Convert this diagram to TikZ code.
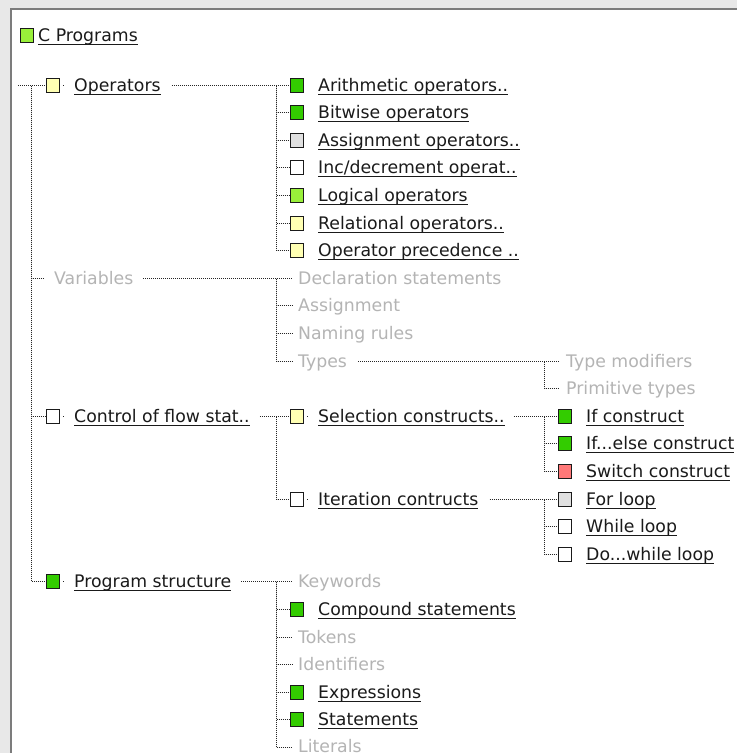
\documentclass[tikz,border=0pt]{standalone}
\usepackage{fontspec}
\setmainfont{DejaVu Sans}
\usetikzlibrary{calc}
\definecolor{cgreen}{HTML}{33CC00}
\definecolor{clime}{HTML}{99F03A}
\definecolor{cyellow}{HTML}{FFFFB3}
\definecolor{cgrey}{HTML}{E0E0E0}
\definecolor{cred}{HTML}{FF7878}
\definecolor{ink}{HTML}{1A1A1A}
\definecolor{faded}{HTML}{B4B4B4}
\definecolor{dots}{HTML}{262626}
\definecolor{panelbg}{HTML}{E8E8E8}
\definecolor{panelrim}{HTML}{7C7C7C}
% underlined link text with a fixed underline position
\newcommand\linktext[1]{\setbox0=\hbox{#1}\rlap{\rule[-3.6pt]{\wd0}{1.2pt}}\box0}
\begin{document}
\begin{tikzpicture}[x=1pt,y=-1pt,
  every node/.style={font=\fontsize{17.3}{20}\selectfont},
  treeline/.style={draw=dots, line width=1pt, dash pattern=on 1pt off 1pt},
  sq/.style={draw=ink, line width=1.3pt, minimum size=13.4pt, inner sep=0pt, anchor=west},
  nopt/.style={inner sep=0pt, minimum size=0pt},
  lnk/.style={anchor=base west, inner sep=0pt, text=ink},
  dim/.style={anchor=base west, inner sep=0pt, text=faded}]
\clip (0,0) rectangle (737,753);
% window frame
\fill[panelbg] (0,0) rectangle (737,753);
\fill[white] (12,10) rectangle (737,753);
\draw[panelrim, line width=2pt] (11,753) -- (11,8.5) -- (737,8.5);

% root
\node[sq, fill=clime] (rootB) at (19.5,35.5) {};
\node[lnk] (rootT) at (38,41.5) {\linktext{C Programs}};

% first level
\node[sq, fill=cyellow] (opsB) at (45.5,85.5) {};
\node[lnk] (opsT) at (74,91.5) {\linktext{Operators}};
\node[nopt] (varsP) at (44,278.5) {};
\node[dim] (varsT) at (54,284.5) {Variables};
\node[sq, fill=white] (ctrlB) at (45.5,416.5) {};
\node[lnk] (ctrlT) at (74,422.5) {\linktext{Control of flow stat..}};
\node[sq, fill=cgreen] (progB) at (45.5,581.5) {};
\node[lnk] (progT) at (74,587.5) {\linktext{Program structure}};

% second level: operators
\node[sq, fill=cgreen] (arithB) at (289.5,85.5) {};
\node[lnk] (arithT) at (318,91.5) {\linktext{Arithmetic operators..}};
\node[sq, fill=cgreen] (bitB) at (289.5,112.5) {};
\node[lnk] (bitT) at (318,118.5) {\linktext{Bitwise operators}};
\node[sq, fill=cgrey] (asgB) at (289.5,140.5) {};
\node[lnk] (asgT) at (318,146.5) {\linktext{Assignment operators..}};
\node[sq, fill=white] (incB) at (289.5,167.5) {};
\node[lnk] (incT) at (318,173.5) {\linktext{Inc/decrement operat..}};
\node[sq, fill=clime] (logB) at (289.5,195.5) {};
\node[lnk] (logT) at (318,201.5) {\linktext{Logical operators}};
\node[sq, fill=cyellow] (relB) at (289.5,223.5) {};
\node[lnk] (relT) at (318,229.5) {\linktext{Relational operators..}};
\node[sq, fill=cyellow] (precB) at (289.5,250.5) {};
\node[lnk] (precT) at (318,256.5) {\linktext{Operator precedence ..}};

% second level: variables
\node[nopt] (declP) at (292,278.5) {};
\node[dim] (declT) at (298,284.5) {Declaration statements};
\node[nopt] (assnP) at (292,305.5) {};
\node[dim] (assnT) at (298,311.5) {Assignment};
\node[nopt] (nameP) at (292,333.5) {};
\node[dim] (nameT) at (298,339.5) {Naming rules};
\node[nopt] (typeP) at (292,361.5) {};
\node[dim] (typeT) at (298,367.5) {Types};

% second level: control of flow
\node[sq, fill=cyellow] (selB) at (289.5,416.5) {};
\node[lnk] (selT) at (318,422.5) {\linktext{Selection constructs..}};
\node[sq, fill=white] (iterB) at (289.5,499.5) {};
\node[lnk] (iterT) at (318,505.5) {\linktext{Iteration contructs}};

% second level: program structure
\node[nopt] (keyP) at (292,581.5) {};
\node[dim] (keyT) at (298,587.5) {Keywords};
\node[sq, fill=cgreen] (compB) at (289.5,609.5) {};
\node[lnk] (compT) at (318,615.5) {\linktext{Compound statements}};
\node[nopt] (tokP) at (292,637.5) {};
\node[dim] (tokT) at (298,643.5) {Tokens};
\node[nopt] (identP) at (292,664.5) {};
\node[dim] (identT) at (298,670.5) {Identifiers};
\node[sq, fill=cgreen] (exprB) at (289.5,692.5) {};
\node[lnk] (exprT) at (318,698.5) {\linktext{Expressions}};
\node[sq, fill=cgreen] (stmtB) at (289.5,719.5) {};
\node[lnk] (stmtT) at (318,725.5) {\linktext{Statements}};
\node[nopt] (litP) at (292,747.5) {};
\node[dim] (litT) at (298,752.5) {Literals};

% third level
\node[nopt] (tmodP) at (559,361.5) {};
\node[dim] (tmodT) at (566,367.5) {Type modifiers};
\node[nopt] (primP) at (559,388.5) {};
\node[dim] (primT) at (566,394.5) {Primitive types};
\node[sq, fill=cgreen] (ifB) at (557.5,416.5) {};
\node[lnk] (ifT) at (586,422.5) {\linktext{If construct}};
\node[sq, fill=cgreen] (ifelB) at (557.5,443.5) {};
\node[lnk] (ifelT) at (586,449.5) {\linktext{If...else construct}};
\node[sq, fill=cred] (swB) at (557.5,471.5) {};
\node[lnk] (swT) at (586,477.5) {\linktext{Switch construct}};
\node[sq, fill=cgrey] (forB) at (557.5,499.5) {};
\node[lnk] (forT) at (586,505.5) {\linktext{For loop}};
\node[sq, fill=white] (whB) at (557.5,526.5) {};
\node[lnk] (whT) at (586,532.5) {\linktext{While loop}};
\node[sq, fill=white] (dowB) at (557.5,554.5) {};
\node[lnk] (dowT) at (586,560.5) {\linktext{Do...while loop}};

% branch points of the tree
\coordinate (stubL) at (18,85.5);
\coordinate (jTop) at (31.5,85.5);
\coordinate (jOps) at (276.5,85.5);
\coordinate (jVars) at (276.5,278.5);
\coordinate (jCtrl) at (276.5,416.5);
\coordinate (jProg) at (276.5,581.5);
\coordinate (jTypes) at (544.5,361.5);
\coordinate (jSel) at (544.5,416.5);
\coordinate (jIter) at (544.5,499.5);

% connectors
\draw[treeline] (stubL) -- (opsB.west);
\foreach \c in {varsP,ctrlB,progB} \draw[treeline] (jTop) |- (\c.west);

\draw[treeline] ($(opsT.east |- jOps)+(11,0)$) -- (arithB.west);
\foreach \c in {bitB,asgB,incB,logB,relB,precB} \draw[treeline] (jOps) |- (\c.west);

\draw[treeline] ($(varsT.east |- jVars)+(10,0)$) -- (declP.west);
\foreach \c in {assnP,nameP,typeP} \draw[treeline] (jVars) |- (\c.west);

\draw[treeline] ($(ctrlT.east |- jCtrl)+(10,0)$) -- (selB.west);
\draw[treeline] (jCtrl) |- (iterB.west);

\draw[treeline] ($(progT.east |- jProg)+(10,0)$) -- (keyP.west);
\foreach \c in {compB,tokP,identP,exprB,stmtB,litP} \draw[treeline] (jProg) |- (\c.west);

\draw[treeline] ($(typeT.east |- jTypes)+(11,0)$) -- (tmodP.west);
\draw[treeline] (jTypes) |- (primP.west);

\draw[treeline] ($(selT.east |- jSel)+(9,0)$) -- (ifB.west);
\foreach \c in {ifelB,swB} \draw[treeline] (jSel) |- (\c.west);

\draw[treeline] ($(iterT.east |- jIter)+(11,0)$) -- (forB.west);
\foreach \c in {whB,dowB} \draw[treeline] (jIter) |- (\c.west);

% small stub right of boxes that have children
\foreach \b in {opsB,ctrlB,progB,selB,iterB}
  \fill[dots] ($(\b.east)+(2.5,-0.5)$) rectangle ++(1,1);
\end{tikzpicture}
\end{document}
